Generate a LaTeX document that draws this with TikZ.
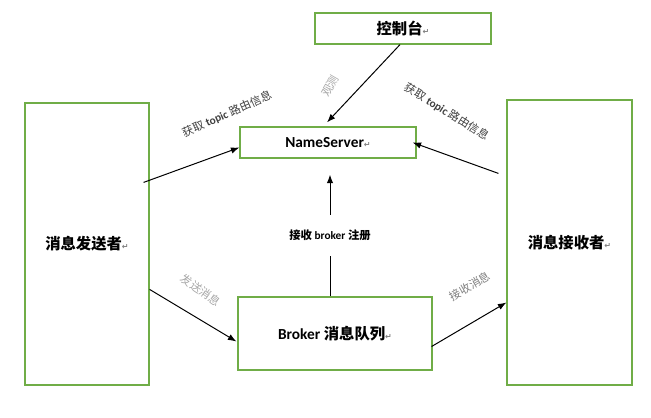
\documentclass[tikz,border=0pt]{standalone}
\usepackage{fontspec}
\setmainfont{Carlito}
\newfontfamily\cjk{Noto Sans CJK SC}
\newfontfamily\symfont{DejaVu Sans}
\usetikzlibrary{arrows.meta, calc, positioning}
\definecolor{boxgreen}{HTML}{70AD47}
\definecolor{lbldark}{HTML}{404040}
\definecolor{lblmid}{HTML}{7F7F7F}
\definecolor{lbllight}{HTML}{A6A6A6}
\newcommand{\ret}{{\symfont\fontsize{6}{7}\selectfont\color{gray}↵}}
\newcommand{\lat}[1]{{\rmfamily\bfseries #1}}

\begin{document}
\begin{tikzpicture}[x=0.75pt, y=-0.75pt, >=Latex,
  box/.style={draw=boxgreen, line width=0.9pt, inner sep=0pt, align=center, font=\cjk\bfseries\fontsize{11.5}{13}\selectfont},
  lbl/.style={inner sep=1pt, font=\cjk\fontsize{8.5}{10}\selectfont},
  link/.style={->, line width=0.75pt}]
\useasboundingbox (0,0) rectangle (651,418);
% boxes
\node[box, minimum width=132pt, minimum height=23.25pt] (ctrl) at (403,28.5) {控制台\ret};
\node[box, minimum width=132pt, minimum height=23.25pt] (ns) at (328,142.5) {\lat{NameServer}\ret};
\node[box, minimum width=93pt, minimum height=211.5pt] (sender) at (87,244) {消息发送者\ret};
\node[box, minimum width=93.75pt, minimum height=213.75pt] (recv) at (569.5,242.5) {消息接收者\ret};
\node[box, minimum width=145.5pt, minimum height=54.75pt] (broker) at (335,333.5) {\lat{Broker} 消息队列\ret};
% connectors
\draw[link] ($(ctrl.south)+(-3,0)$) -- ($(ns.north)+(-1,-4)$);
\draw[link] ($(sender.north east)+(-6,80)$) -- ($(ns.west)+(0,5)$);
\draw[link] ($(recv.north west)+(-8,74)$) -- ($(ns.east)+(-4,0)$);
\draw[link] ($(broker.north)+(-5,0)$) -- node[fill=white, inner xsep=2pt, inner ysep=11pt, font=\cjk\bfseries\fontsize{8.5}{10}\selectfont] (reg) {接收 {\rmfamily broker} 注册} ($(ns.south)+(2,16)$);
\draw[link] ($(sender.north east)+(0,187)$) -- ($(broker.west)+(-1,8)$);
\draw[link] ($(broker.east)+(-1,13)$) -- ($(recv.west)+(0,60)$);
% labels
\node[lbl, text=lbldark, rotate=24] (topicl) at (227,114) {获取 \lat{topic} 路由信息};
\node[lbl, text=lbllight, rotate=60] (watch) at (330,86) {观测};
\node[lbl, text=lbldark, rotate=-32] (topicr) at (447,112) {获取 \lat{topic} 路由信息};
\node[lbl, text=lbllight, rotate=-35] (send) at (201,290) {发送消息};
\node[lbl, text=lblmid, rotate=30] (recvmsg) at (470,286) {接收消息};
\end{tikzpicture}
\end{document}
